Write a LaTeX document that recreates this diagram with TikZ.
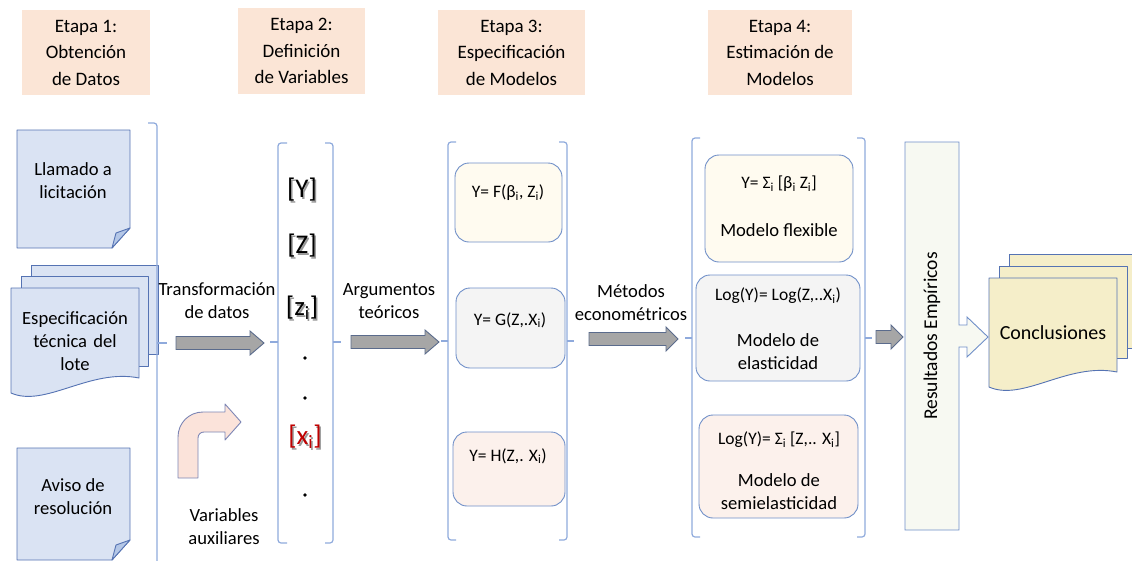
\documentclass[tikz,border=0pt]{standalone}
\usepackage{fontspec}
\setmainfont{Carlito}
\usetikzlibrary{calc}

\definecolor{hdrfill}{HTML}{FBE5D6}
\definecolor{docfill}{HTML}{DAE3F3}
\definecolor{docline}{HTML}{5573B3}
\definecolor{foldfill}{HTML}{B4C7E7}
\definecolor{bracecol}{HTML}{8FAADC}
\definecolor{boxline}{HTML}{6F8FC8}
\definecolor{arrfill}{HTML}{A6A6A6}
\definecolor{arrline}{HTML}{5A6B8C}
\definecolor{resfill}{HTML}{F7F9F2}
\definecolor{concfill}{HTML}{F5EEC9}
\definecolor{bentfill}{HTML}{FBE3DA}
\definecolor{bentline}{HTML}{7D86B5}
\definecolor{redtxt}{HTML}{C00000}
\definecolor{fillF}{HTML}{FFFBF0}
\definecolor{fillG}{HTML}{F4F4F4}
\definecolor{fillH}{HTML}{FCF1EC}

\tikzset{
  hdrbox/.style={fill=hdrfill, align=center, inner sep=0pt,
    font=\fontsize{19}{26.5}\selectfont},
  doc/.style={draw=docline, fill=docfill, line width=0.9pt, line join=round},
  doctext/.style={align=center, font=\fontsize{18.6}{23}\selectfont},
  bracket/.style={draw=bracecol, line width=1.2pt, rounded corners=3pt},
  greyarrow/.style={draw=arrline, fill=arrfill, line width=0.9pt},
  modelbox/.style={draw=boxline, line width=0.9pt, rounded corners=14pt, inner sep=0pt},
  formula/.style={font=\fontsize{17.5}{22}\selectfont},
  symb/.style={font=\fontsize{27}{30}\selectfont},
  symbshadow/.style={font=\fontsize{27}{30}\selectfont, text=black!40},
  vdot/.style={circle, fill=black, inner sep=0pt, minimum size=3.6pt},
}

% block arrow: x-start, x-end, y-centre, head length
\newcommand{\blockarrow}[4]{%
  \draw[greyarrow] (#1,#3-6.5) -- (#2-#4,#3-6.5) -- (#2-#4,#3-12) -- (#2,#3)
    -- (#2-#4,#3+12) -- (#2-#4,#3+6.5) -- (#1,#3+6.5) -- cycle;}

\begin{document}
\begin{tikzpicture}[x=1pt, y=-1pt, font=\fontsize{18.6}{23}\selectfont]
\useasboundingbox (0,0) rectangle (1132,560);
\clip (0,0) rectangle (1132,560);

% ---------- stage headers ----------
\node[hdrbox, minimum width=128pt, minimum height=85pt] (h1) at (86,52.5)
  {Etapa 1:\\Obtención\\de Datos};
\node[hdrbox, minimum width=127pt, minimum height=86pt] (h2) at (301.5,51)
  {Etapa 2:\\Definición\\de Variables};
\node[hdrbox, minimum width=147pt, minimum height=85pt] (h3) at (511.5,52.5)
  {Etapa 3:\\Especificación\\de Modelos};
\node[hdrbox, minimum width=144pt, minimum height=85pt] (h4) at (780,52.5)
  {Etapa 4:\\Estimación de\\Modelos};

% ---------- stage 1: source documents ----------
\draw[doc] (17,130) -- (130,130) -- (130,228) -- (112,248) -- (17,248) -- cycle;
\draw[doc, fill=foldfill] (112,248) -- (130,228) -- (116,233) -- cycle;
\node[doctext] (llamado) at (73,181) {Llamado a\\licitación};

\draw[doc] (31,265) rectangle (158,354);
\draw[doc] (21,276) rectangle (148,366);
\draw[doc] (11,288) -- (139,288) -- (139,378)
  .. controls (90,368) and (45,408) .. (11,393) -- cycle;
\node[doctext, text width=130pt] (espec) at (75,341)
  {Especificación\\técnica del\\lote};

\draw[doc] (17,448) -- (130,448) -- (130,540) -- (112,560) -- (17,560) -- cycle;
\draw[doc, fill=foldfill] (112,560) -- (130,540) -- (116,545) -- cycle;
\node[doctext] (aviso) at (73,497) {Aviso de\\resolución};

% stage 1 bracket
\draw[bracket] (148,123) -- (157,123) -- (157,570);
\draw[bracket] (157,343) -- (167,343);

% transformation arrow and label
\blockarrow{176}{264}{343}{14}
\node[doctext] (transf) at (217,301) {Transformación\\de datos};

% bent arrow for auxiliary variables
\draw[draw=bentline, fill=bentfill, line width=0.9pt, line join=round]
  (178,478) -- (178,437) .. controls (178,423) and (189,412) .. (203,412)
  -- (225,412) -- (225,404) -- (241,422) -- (225,440) -- (225,432)
  -- (204,432) .. controls (200.5,432) and (198,434.5) .. (198,438)
  -- (198,478) -- cycle;
\node[doctext] (aux) at (224,527) {Variables\\auxiliares};

% ---------- stage 2: variables ----------
\draw[bracket] (287,143) -- (278,143) -- (278,543) -- (287,543);
\draw[bracket] (278,342) -- (270,342);
\draw[bracket] (325,143) -- (333,143) -- (333,543) -- (325,543);
\draw[bracket] (333,342) -- (341,342);

\node[symbshadow] (ysh) at (303.5,191.5) {[Y]};
\node[symb] (yv) at (302,190) {[Y]};
\node[symbshadow] (zsh) at (303.5,247.5) {[Z]};
\node[symb] (zv) at (302,246) {[Z]};
\node[symbshadow] (zish) at (303.5,309.5) {[z\textsubscript{i}]};
\node[symb] (ziv) at (302,308) {[z\textsubscript{i}]};
\node[vdot] (d1) at (305,358) {};
\node[vdot] (d2) at (305,398) {};
\node[symbshadow] (xish) at (306.5,438.5) {[x\textsubscript{i}]};
\node[symb, text=redtxt] (xiv) at (305,437) {[x\textsubscript{i}]};
\node[vdot] (d3) at (305,495) {};

% theoretical arguments arrow
\blockarrow{351}{439}{342}{14}
\node[doctext] (argum) at (389,301) {Argumentos\\teóricos};

% ---------- stage 3: model specification ----------
\draw[bracket] (456,142) -- (448,142) -- (448,540) -- (456,540);
\draw[bracket] (448,341) -- (441,341);
\draw[bracket] (559,142) -- (567,142) -- (567,540) -- (559,540);
\draw[bracket] (567,341) -- (574,341);

\node[modelbox, fill=fillF, minimum width=107pt, minimum height=79pt] (bF) at (508.5,202.5) {};
\node[formula] (tF) at (508,193) {Y= F(β\textsubscript{i}, Z\textsubscript{i})};
\node[modelbox, fill=fillG, minimum width=109pt, minimum height=80pt] (bG) at (510.5,328) {};
\node[formula] (tG) at (510,320) {Y= G(Z,.X\textsubscript{i})};
\node[modelbox, fill=fillH, minimum width=112pt, minimum height=74pt] (bH) at (509,469) {};
\node[formula] (tH) at (508,456) {Y= H(Z,. X\textsubscript{i})};

% econometric methods arrow
\blockarrow{589}{678}{339}{12}
\node[doctext] (metod) at (631,303) {Métodos\\econométricos};

% ---------- stage 4: model estimation ----------
\draw[bracket] (700,138) -- (692,138) -- (692,537) -- (700,537);
\draw[bracket] (692,338) -- (685,338);
\draw[bracket] (857,138) -- (865,138) -- (865,537) -- (857,537);
\draw[bracket] (865,338) -- (872,338);

\node[modelbox, fill=fillF, minimum width=148pt, minimum height=107pt] (bflex) at (779,208.5) {};
\node[formula] (tflex1) at (779,184) {Y= Σ\textsubscript{i} [β\textsubscript{i} Z\textsubscript{i}]};
\node[doctext] (tflex2) at (779,230) {Modelo flexible};
\node[modelbox, fill=fillG, minimum width=164pt, minimum height=106pt] (belas) at (778,328) {};
\node[formula] (telas1) at (778,296) {Log(Y)=\ Log(Z,..X\textsubscript{i})};
\node[doctext] (telas2) at (778,351.5) {Modelo de\\elasticidad};
\node[modelbox, fill=fillH, minimum width=159pt, minimum height=103pt] (bsemi) at (778.5,466.5) {};
\node[formula] (tsemi1) at (779,440) {Log(Y)= Σ\textsubscript{i} [Z,.. X\textsubscript{i}]};
\node[doctext] (tsemi2) at (779,491.5) {Modelo de\\semielasticidad};

% arrow into results
\blockarrow{876}{903}{337}{12}

% ---------- results and conclusions ----------
\draw[draw=boxline, fill=resfill, line width=0.9pt]
  (905,142) -- (959,142) -- (959,325) -- (967,325) -- (967,317) -- (988,337)
  -- (967,357) -- (967,347) -- (959,347) -- (959,530) -- (905,530) -- cycle;
\node[rotate=90, font=\fontsize{19.5}{23}\selectfont] (result) at (932,336) {Resultados Empíricos};

\draw[doc, fill=concfill] (1009,254) rectangle (1140,348);
\draw[doc, fill=concfill] (999,266) rectangle (1127,358);
\draw[doc, fill=concfill] (989,278) -- (1117,278) -- (1117,372)
  .. controls (1068,362) and (1023,402) .. (989,387) -- cycle;
\node[font=\fontsize{20}{24}\selectfont] (concl) at (1053,333) {Conclusiones};

\end{tikzpicture}
\end{document}
